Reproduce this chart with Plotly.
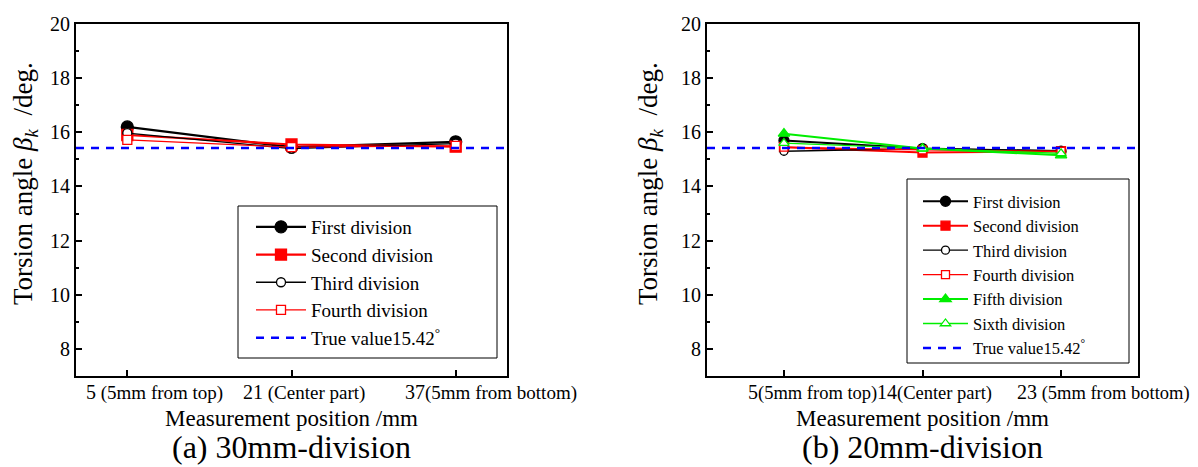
import plotly.graph_objects as go

# ---------------- data ----------------
TRUE_VALUE = 15.42

pos_a = [5, 21, 37]
num_a = ["5", "21", "37"]
note_a = [" (5mm from top)", " (Center part)", "(5mm from bottom)"]
a_first = [16.2, 15.45, 15.65]
a_second = [15.9, 15.55, 15.47]
a_third = [15.97, 15.4, 15.58]
a_fourth = [15.72, 15.45, 15.5]

pos_b = [5, 14, 23]
num_b = ["5", "14", "23"]
note_b = ["(5mm from top)", "(Center part)", " (5mm from bottom)"]
b_first = [15.7, 15.4, 15.3]
b_second = [15.45, 15.25, 15.3]
b_third = [15.3, 15.4, 15.32]
b_fourth = [15.45, 15.35, 15.3]
b_fifth = [15.95, 15.4, 15.15]
b_sixth = [15.6, 15.4, 15.22]

y_ticks = [8, 10, 12, 14, 16, 18, 20]
range_a = [0, 42]
range_b = [0, 28]
y_range = [7, 20]

# ---------------- style ----------------
FONT = "Liberation Serif, Times New Roman, serif"
OFF = 8                      # default page body margin
W, H = 1198 - OFF, 467 - OFF
GREEN = "#00ee00"
shift_a = [27, 12, 35]
note_size_a = [19, 19, 19]
shift_b = [29, 12, 42]
note_size_b = [18.5, 18.5, 18.5]


def px(x):
    return (x - OFF) / W


def py(y):
    return 1 - (y - OFF) / H


fig = go.Figure()


def add(x, y, name, color, symbol, width, size, xa, ya, legend, hollow=False):
    fig.add_trace(go.Scatter(
        x=x, y=y, name=name, mode="lines+markers",
        line=dict(color=color, width=width),
        marker=dict(symbol=symbol, size=size,
                    color="white" if hollow else color,
                    line=dict(color=color, width=1.3)),
        xaxis=xa, yaxis=ya, legend=legend))


# left
add(pos_a, a_first, "First division", "black", "circle", 2.2, 12, "x", "y", "legend")
add(pos_a, a_second, "Second division", "red", "square", 2.2, 11, "x", "y", "legend")
add(pos_a, a_third, "Third division", "black", "circle", 1.3, 9, "x", "y", "legend", True)
add(pos_a, a_fourth, "Fourth division", "red", "square", 1.3, 9, "x", "y", "legend", True)
fig.add_trace(go.Scatter(x=range_a, y=[TRUE_VALUE, TRUE_VALUE], mode="lines",
                         name="True value15.42<sup>°</sup>",
                         line=dict(color="blue", width=2.5, dash="8px,7px"),
                         xaxis="x", yaxis="y", legend="legend"))

# right
add(pos_b, b_first, "First division", "black", "circle", 2.0, 10, "x2", "y2", "legend2")
add(pos_b, b_second, "Second division", "red", "square", 2.0, 9, "x2", "y2", "legend2")
add(pos_b, b_third, "Third division", "black", "circle", 1.3, 8, "x2", "y2", "legend2", True)
add(pos_b, b_fourth, "Fourth division", "red", "square", 1.3, 8, "x2", "y2", "legend2", True)
add(pos_b, b_fifth, "Fifth division", GREEN, "triangle-up", 2.0, 10, "x2", "y2", "legend2")
add(pos_b, b_sixth, "Sixth division", GREEN, "triangle-up", 1.3, 9, "x2", "y2", "legend2", True)
fig.add_trace(go.Scatter(x=range_b, y=[TRUE_VALUE, TRUE_VALUE], mode="lines",
                         name="True value15.42<sup>°</sup>",
                         line=dict(color="blue", width=2.5, dash="8px,7px"),
                         xaxis="x2", yaxis="y2", legend="legend2"))

dom_y = [py(376), py(24)]
dom_a = [px(76), px(507)]
dom_b = [px(707), px(1138)]

axis_common = dict(showline=True, linecolor="black", linewidth=2, mirror=True,
                   ticks="inside", ticklen=6, tickwidth=2, tickcolor="black",
                   showgrid=False, zeroline=False, automargin=False,
                   tickfont=dict(family=FONT, size=20, color="black"))
minor = dict(dtick=1, ticks="inside", ticklen=3, tickwidth=2, tickcolor="black")

fig.update_layout(
    width=W, height=H, margin=dict(l=0, r=0, t=0, b=0, autoexpand=False),
    paper_bgcolor="white", plot_bgcolor="white",
    font=dict(family=FONT, color="black"),
    xaxis=dict(domain=dom_a, range=range_a, tickvals=pos_a, showticklabels=False,
               anchor="y", **axis_common),
    yaxis=dict(domain=dom_y, range=y_range, tickvals=y_ticks, anchor="x", minor=minor,
               **axis_common),
    xaxis2=dict(domain=dom_b, range=range_b, tickvals=pos_b, showticklabels=False,
                anchor="y2", **axis_common),
    yaxis2=dict(domain=dom_y, range=y_range, tickvals=y_ticks, anchor="x2", minor=minor,
                **axis_common),
    legend=dict(x=px(251), y=py(208), xanchor="left", yanchor="top",
                borderwidth=0, bgcolor="rgba(0,0,0,0)",
                font=dict(family=FONT, size=19, color="black"),
                tracegroupgap=0, itemwidth=50),
    legend2=dict(x=px(918), y=py(184), xanchor="left", yanchor="top",
                 borderwidth=0, bgcolor="rgba(0,0,0,0)",
                 font=dict(family=FONT, size=16.5, color="black"),
                 tracegroupgap=0, itemwidth=45),
    showlegend=True,
    shapes=[
        dict(type="rect", xref="paper", yref="paper", x0=px(238), x1=px(497),
             y0=py(358), y1=py(206), line=dict(color="black", width=1),
             fillcolor="white", layer="above"),
        dict(type="rect", xref="paper", yref="paper", x0=px(907), x1=px(1129),
             y0=py(363), y1=py(179), line=dict(color="black", width=1),
             fillcolor="white", layer="above"),
    ],
)

ann = []
# x tick labels, placed on the data scale of each x axis
for xref, pos, nums, notes, shifts, sizes in [("x", pos_a, num_a, note_a, shift_a, note_size_a),
                                              ("x2", pos_b, num_b, note_b, shift_b, note_size_b)]:
    for p, n, t, s, fs in zip(pos, nums, notes, shifts, sizes):
        ann.append(dict(x=p, y=py(392), xref=xref, yref="paper", showarrow=False,
                        text=f"{n}<span style='font-size:{fs}px'>{t}</span>",
                        font=dict(family=FONT, size=20, color="black"),
                        xanchor="center", yanchor="middle", xshift=s))

YTITLE = "Torsion angle&nbsp;<i>β</i><sub><i>k</i></sub>&nbsp;&nbsp;/deg."
for cx, ylab_x, cap in [((76 + 507) / 2, 25, "(a) 30mm-division"),
                        ((707 + 1138) / 2, 650, "(b) 20mm-division")]:
    ann.append(dict(x=px(cx), y=py(418), xref="paper", yref="paper",
                    text="Measurement position /mm", showarrow=False,
                    font=dict(family=FONT, size=23, color="black"),
                    xanchor="center", yanchor="middle"))
    ann.append(dict(x=px(cx), y=py(447), xref="paper", yref="paper",
                    text=cap, showarrow=False,
                    font=dict(family=FONT, size=32, color="black"),
                    xanchor="center", yanchor="middle"))
    ann.append(dict(x=px(ylab_x), y=py(184), xref="paper", yref="paper",
                    text=YTITLE, showarrow=False, textangle=-90,
                    font=dict(family=FONT, size=27, color="black"),
                    xanchor="center", yanchor="middle"))
fig.update_layout(annotations=ann)

fig.write_html("out.html")
